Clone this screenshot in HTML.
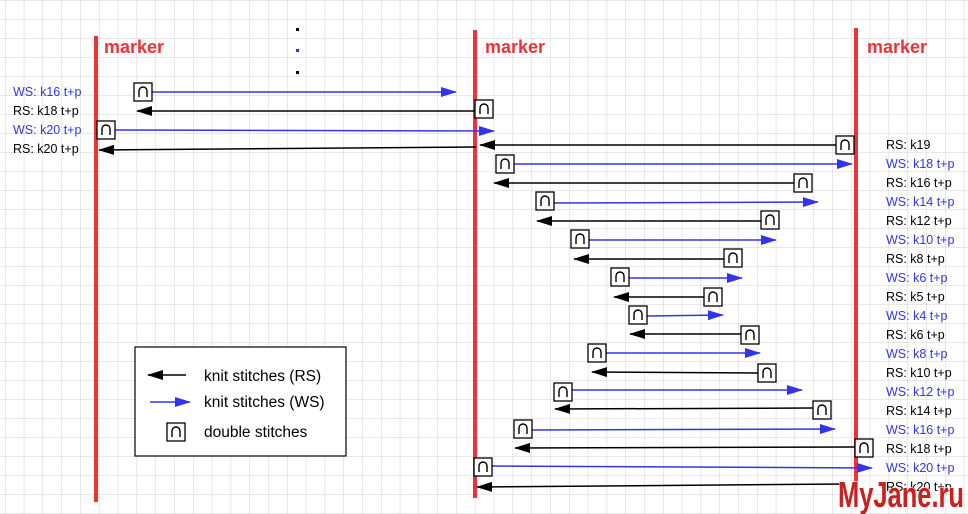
<!DOCTYPE html>
<html><head><meta charset="utf-8"><style>
html,body{margin:0;padding:0;background:#fff}
svg{display:block}
text{font-family:"Liberation Sans",sans-serif}
</style></head><body>
<svg width="968" height="514" viewBox="0 0 968 514" xmlns="http://www.w3.org/2000/svg">
<defs>
<pattern id="g" x="5" y="0" width="18.8" height="19" patternUnits="userSpaceOnUse">
<path d="M0 0H18.8M0 0V19" stroke="#d0d0d0" stroke-width="1" fill="none"/>
</pattern>
<marker id="ab" markerWidth="16" markerHeight="10" refX="15" refY="5" orient="auto" markerUnits="userSpaceOnUse"><path d="M0 0L16 5L0 10Z" fill="#000"/></marker>
<marker id="aw" markerWidth="16" markerHeight="10" refX="15" refY="5" orient="auto" markerUnits="userSpaceOnUse"><path d="M0 0L16 5L0 10Z" fill="#3333ee"/></marker>
<g id="bx"><rect x="-9" y="-9" width="18" height="18" fill="#fff" stroke="#000" stroke-width="1.3"/><path d="M-4 5V-1A4 4 0 0 1 4 -1V5" fill="none" stroke="#000" stroke-width="1.4"/></g>
</defs>
<rect width="968" height="514" fill="#fff"/>
<rect width="968" height="514" fill="url(#g)"/>
<g stroke="#ee3338" stroke-width="4">
<line x1="96" y1="36" x2="96" y2="502"/>
<line x1="475" y1="30" x2="475" y2="498"/>
<line x1="856" y1="28" x2="856" y2="502"/>
</g>
<g font-size="18" font-weight="bold" fill="#ee3338">
<text x="104" y="53">marker</text><text x="485" y="53">marker</text><text x="867" y="53">marker</text>
</g>
<rect x="296" y="28" width="3" height="3" fill="#000"/><rect x="296" y="49" width="3" height="3" fill="#3333ee"/><rect x="296" y="71" width="3" height="3" fill="#000"/>
<g stroke-width="1.5" fill="none">
<line x1="152" y1="92" x2="456" y2="92" stroke="#3333ee" marker-end="url(#aw)"/>
<line x1="476" y1="111" x2="137" y2="111" stroke="#000" marker-end="url(#ab)"/>
<line x1="115" y1="130" x2="494" y2="131" stroke="#3333ee" marker-end="url(#aw)"/>
<line x1="476" y1="147" x2="99" y2="150" stroke="#000" marker-end="url(#ab)"/>
<line x1="836" y1="145" x2="480" y2="145" stroke="#000" marker-end="url(#ab)"/>
<line x1="514" y1="164" x2="852" y2="164" stroke="#3333ee" marker-end="url(#aw)"/>
<line x1="794" y1="183" x2="494" y2="183" stroke="#000" marker-end="url(#ab)"/>
<line x1="554" y1="203" x2="818" y2="202" stroke="#3333ee" marker-end="url(#aw)"/>
<line x1="761" y1="221" x2="537" y2="221" stroke="#000" marker-end="url(#ab)"/>
<line x1="589" y1="240" x2="776" y2="240" stroke="#3333ee" marker-end="url(#aw)"/>
<line x1="724" y1="259" x2="574" y2="259" stroke="#000" marker-end="url(#ab)"/>
<line x1="629" y1="278" x2="742" y2="278" stroke="#3333ee" marker-end="url(#aw)"/>
<line x1="704" y1="297" x2="614" y2="297" stroke="#000" marker-end="url(#ab)"/>
<line x1="647" y1="316" x2="723" y2="315" stroke="#3333ee" marker-end="url(#aw)"/>
<line x1="741" y1="334" x2="630" y2="334" stroke="#000" marker-end="url(#ab)"/>
<line x1="606" y1="353" x2="760" y2="353" stroke="#3333ee" marker-end="url(#aw)"/>
<line x1="758" y1="373" x2="592" y2="372" stroke="#000" marker-end="url(#ab)"/>
<line x1="572" y1="390" x2="802" y2="390" stroke="#3333ee" marker-end="url(#aw)"/>
<line x1="813" y1="408" x2="555" y2="409" stroke="#000" marker-end="url(#ab)"/>
<line x1="532" y1="430" x2="835" y2="429" stroke="#3333ee" marker-end="url(#aw)"/>
<line x1="855" y1="447" x2="515" y2="448" stroke="#000" marker-end="url(#ab)"/>
<line x1="492" y1="466" x2="872" y2="468" stroke="#3333ee" marker-end="url(#aw)"/>
<line x1="845" y1="484" x2="477" y2="487" stroke="#000" marker-end="url(#ab)"/>
</g>
<g>
<use href="#bx" x="143" y="92"/><use href="#bx" x="484" y="109"/><use href="#bx" x="106" y="130"/>
<use href="#bx" x="845" y="145"/><use href="#bx" x="505" y="164"/><use href="#bx" x="803" y="183"/>
<use href="#bx" x="545" y="201"/><use href="#bx" x="770" y="220"/><use href="#bx" x="580" y="239"/>
<use href="#bx" x="733" y="258"/><use href="#bx" x="620" y="277"/><use href="#bx" x="713" y="297"/>
<use href="#bx" x="638" y="315"/><use href="#bx" x="750" y="335"/><use href="#bx" x="597" y="353"/>
<use href="#bx" x="767" y="373"/><use href="#bx" x="563" y="392"/><use href="#bx" x="822" y="410"/>
<use href="#bx" x="523" y="429"/><use href="#bx" x="864" y="448"/><use href="#bx" x="483" y="467"/>
</g>
<g font-size="12.5">
<text x="13" y="96" fill="#3333ee">WS: k16 t+p</text>
<text x="13" y="115" fill="#000">RS: k18 t+p</text>
<text x="13" y="134" fill="#3333ee">WS: k20 t+p</text>
<text x="13" y="153" fill="#000">RS: k20 t+p</text>
<text x="886" y="149" fill="#000">RS: k19</text>
<text x="886" y="168" fill="#3333ee">WS: k18 t+p</text>
<text x="886" y="187" fill="#000">RS: k16 t+p</text>
<text x="886" y="206" fill="#3333ee">WS: k14 t+p</text>
<text x="886" y="225" fill="#000">RS: k12 t+p</text>
<text x="886" y="244" fill="#3333ee">WS: k10 t+p</text>
<text x="886" y="263" fill="#000">RS: k8 t+p</text>
<text x="886" y="282" fill="#3333ee">WS: k6 t+p</text>
<text x="886" y="301" fill="#000">RS: k5 t+p</text>
<text x="886" y="320" fill="#3333ee">WS: k4 t+p</text>
<text x="886" y="339" fill="#000">RS: k6 t+p</text>
<text x="886" y="358" fill="#3333ee">WS: k8 t+p</text>
<text x="886" y="377" fill="#000">RS: k10 t+p</text>
<text x="886" y="396" fill="#3333ee">WS: k12 t+p</text>
<text x="886" y="415" fill="#000">RS: k14 t+p</text>
<text x="886" y="434" fill="#3333ee">WS: k16 t+p</text>
<text x="886" y="453" fill="#000">RS: k18 t+p</text>
<text x="886" y="472" fill="#3333ee">WS: k20 t+p</text>
<text x="886" y="491" fill="#000">RS: k20 t+p</text>
</g>
<rect x="135" y="347" width="211" height="109" fill="#fff" stroke="#000" stroke-width="1.2"/>
<line x1="186" y1="375" x2="148" y2="375" stroke="#000" stroke-width="1.5" marker-end="url(#ab)"/>
<line x1="150" y1="402" x2="190" y2="402" stroke="#3333ee" stroke-width="1.5" marker-end="url(#aw)"/>
<use href="#bx" x="176" y="432"/>
<g font-size="15.5" fill="#000">
<text x="204" y="381">knit stitches (RS)</text>
<text x="204" y="407">knit stitches (WS)</text>
<text x="204" y="437">double stitches</text>
</g>
<text x="838" y="507" font-size="36" font-weight="bold" fill="#cc1f1f" stroke="#fff" stroke-width="1.2" paint-order="stroke" textLength="126" lengthAdjust="spacingAndGlyphs">MyJane.ru</text>
</svg>
</body></html>
